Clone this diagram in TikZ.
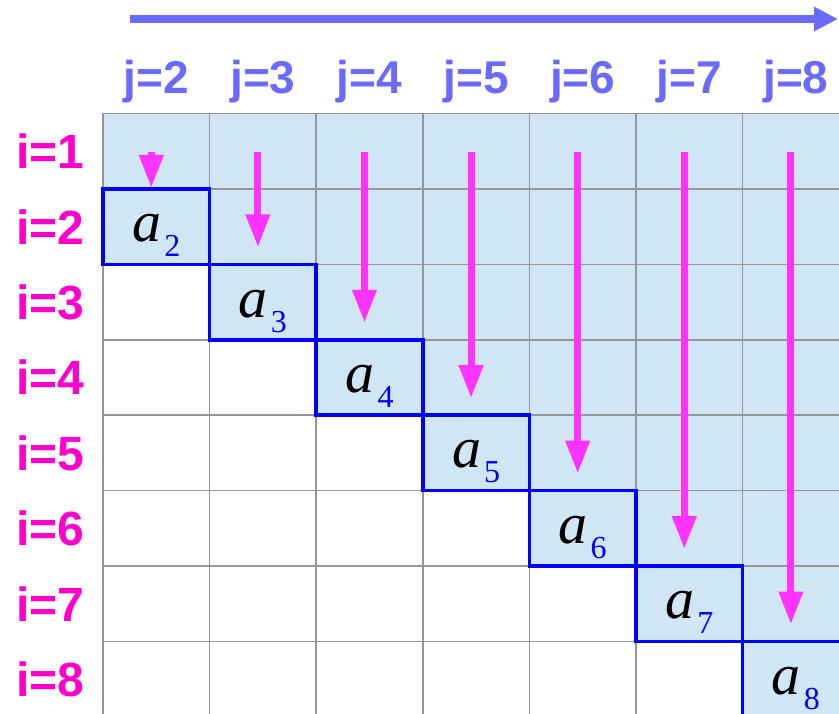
\documentclass[tikz,border=0pt]{standalone}
\usepackage{fontspec}
\setmainfont{Liberation Serif}
\newfontfamily\labfont{Liberation Sans}
\usetikzlibrary{arrows.meta}
\definecolor{cellblue}{RGB}{208,230,244}
\definecolor{jblue}{RGB}{106,106,255}
\definecolor{imag}{RGB}{255,0,204}
\definecolor{sweeppink}{RGB}{255,51,255}
\definecolor{gridgray}{RGB}{150,150,150}
\newcommand{\cw}{106.6}
\newcommand{\rh}{75.43}

\begin{document}
\begin{tikzpicture}[x=1pt, y=-1pt,
  jlabel/.style={font=\labfont\bfseries\fontsize{46}{46}\selectfont, text=jblue, anchor=base, inner sep=0pt},
  ilabel/.style={font=\labfont\bfseries\fontsize{48}{48}\selectfont, text=imag, inner sep=0pt},
  diagcell/.style={draw=blue, line width=3.5pt, minimum width=\cw pt, minimum height=\rh pt, inner sep=0pt},
  entry/.style={font=\fontsize{58}{58}\selectfont\itshape, anchor=base, inner sep=0pt},
  sweep/.style={draw=sweeppink, line width=7pt, -{Triangle[length=33pt,width=23pt]}},
  jarrow/.style={draw=jblue, line width=8pt, -{Triangle[length=24pt,width=23pt]}}]
  \useasboundingbox (0,0) rectangle (839,714);
  \clip (0,0) rectangle (839,714);
  % shaded upper triangle
  \foreach \j in {2,...,8}
    \fill[cellblue] ({103+(\j-2)*\cw},113.5) rectangle ({103+(\j-1)*\cw},{113.5+\j*\rh});
  % grid
  \foreach \k in {0,...,7}
    \draw[gridgray, line width=1.5pt] ({103+\k*\cw},113.5) -- ({103+\k*\cw},720);
  \foreach \k in {0,...,8}
    \draw[gridgray, line width=1.5pt] (103,{113.5+\k*\rh}) -- (850,{113.5+\k*\rh});
  % direction of j
  \coordinate (jfrom) at (130,19);
  \coordinate (jto) at (838,19);
  \draw[jarrow] (jfrom) -- (jto);
  % labels
  \foreach \j in {2,...,8}
    \node[jlabel] (j\j) at ({103+(\j-1.5)*\cw},94) {j=\j};
  \foreach \i in {1,...,8}
    \node[ilabel] (i\i) at (50.5,{113.5+(\i-0.5)*\rh}) {i=\i};
  % diagonal cells and sweeps
  \foreach \j in {2,...,8} {
    \node[diagcell] (d\j) at ({103+(\j-1.5)*\cw},{113.5+(\j-0.5)*\rh}) {};
    \node[entry] (a\j) at ([yshift=-15pt]d\j.center)
      {a\kern3pt\raisebox{-15pt}{\color{blue}\fontsize{32}{32}\selectfont\upshape\j}};
    \coordinate (s\j) at ({103+(\j-1.5)*\cw-5},152);
    \coordinate (t\j) at ({103+(\j-1.5)*\cw-5},{max(113.5+(\j-1)*\rh-17,188)});
    \draw[sweep] (s\j) -- (t\j);
  }
\end{tikzpicture}
\end{document}
